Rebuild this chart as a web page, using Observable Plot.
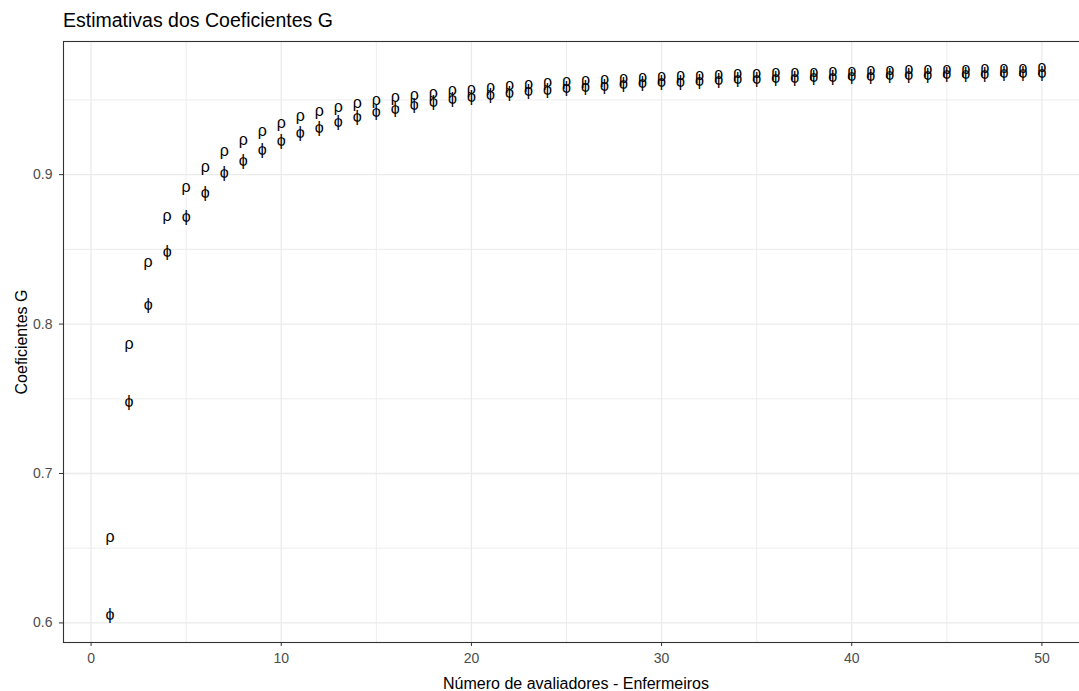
<!DOCTYPE html>
<html><head><meta charset="utf-8">
<script src="https://cdn.jsdelivr.net/npm/d3@7"></script>
<script src="https://cdn.jsdelivr.net/npm/@observablehq/plot@0.6"></script>
<style>
html,body{margin:0;padding:0;background:#fff;}
#wrap{position:relative;width:1079px;height:691px;overflow:hidden;background:#fff;font-family:"Liberation Sans",Arial,sans-serif;}
#title{position:absolute;left:63px;top:9px;font-size:19.5px;line-height:22px;color:#000;white-space:nowrap;}
#chart{position:absolute;left:0;top:32px;width:1100px;}
#chart svg{max-width:none !important;}
</style></head><body>
<div id="wrap"><div id="title">Estimativas dos Coeficientes G</div><div id="chart"></div></div>
<script>
const avaliadores = [1,2,3,4,5,6,7,8,9,10,11,12,13,14,15,16,17,18,19,20,21,22,23,24,25,26,27,28,29,30,31,32,33,34,35,36,37,38,39,40,41,42,43,44,45,46,47,48,49,50];
const coefRho = [0.6574,0.7870,0.8414,0.8725,0.8917,0.9053,0.9156,0.9233,0.9293,0.9349,0.9390,0.9425,0.9455,0.9480,0.9500,0.9518,0.9534,0.9550,0.9564,0.9577,0.9589,0.9600,0.9610,0.9619,0.9628,0.9636,0.9643,0.9650,0.9656,0.9661,0.9666,0.9670,0.9674,0.9678,0.9682,0.9685,0.9688,0.9691,0.9694,0.9697,0.9700,0.9702,0.9705,0.9707,0.9709,0.9711,0.9713,0.9715,0.9717,0.9719];
const coefPhi = [0.6051,0.7482,0.8130,0.8480,0.8717,0.8880,0.9009,0.9090,0.9166,0.9225,0.9278,0.9315,0.9352,0.9388,0.9418,0.9443,0.9466,0.9486,0.9504,0.9520,0.9534,0.9547,0.9559,0.9570,0.9580,0.9589,0.9597,0.9605,0.9612,0.9618,0.9624,0.9629,0.9634,0.9638,0.9642,0.9646,0.9650,0.9653,0.9656,0.9659,0.9662,0.9665,0.9667,0.9670,0.9672,0.9674,0.9676,0.9678,0.9680,0.9682];
const simboloRho = "ρ";
const simboloPhi = "ϕ";
const xTicks = [0,10,20,30,40,50];
const xMinor = [5,15,25,35,45];
const yTicks = [0.6,0.7,0.8,0.9];
const yMinor = [0.65,0.75,0.85,0.95];
const tituloX = "Número de avaliadores - Enfermeiros";
const tituloY = "Coeficientes G";

const dados = avaliadores.flatMap((n, i) => [
  {n, v: coefRho[i], s: simboloRho},
  {n, v: coefPhi[i], s: simboloPhi}
]);

const chart = Plot.plot({
  width: 1100,
  height: 659,
  marginTop: 9,
  marginBottom: 49,
  marginLeft: 63,
  marginRight: 12,
  x: {domain: [-1.45, 52.45]},
  y: {domain: [0.5869, 0.9891]},
  style: {fontFamily: "'Liberation Sans', Arial, sans-serif", fontSize: "14px", background: "white", overflow: "visible", maxWidth: "none"},
  marks: [
    Plot.gridX(xMinor, {stroke: "#EBEBEB", strokeOpacity: 1, strokeWidth: 0.9}),
    Plot.gridY(yMinor, {stroke: "#EBEBEB", strokeOpacity: 1, strokeWidth: 0.9}),
    Plot.gridX(xTicks, {stroke: "#EBEBEB", strokeOpacity: 1, strokeWidth: 1.3}),
    Plot.gridY(yTicks, {stroke: "#EBEBEB", strokeOpacity: 1, strokeWidth: 1.3}),
    Plot.text(dados, {x: "n", y: "v", text: "s", fontSize: 16, fill: "#000"}),
    Plot.frame({stroke: "#333333", strokeWidth: 1.1}),
    Plot.axisX(xTicks, {tickSize: 4, tickPadding: 7, stroke: "#333333", fill: "#4D4D4D", fontSize: 14,
      label: tituloX, labelAnchor: "center", labelOffset: 46, labelArrow: "none"}),
    Plot.axisY(yTicks, {tickSize: 4, tickPadding: 7, stroke: "#333333", fill: "#4D4D4D", fontSize: 14,
      tickFormat: d => d.toFixed(1),
      label: tituloY, labelAnchor: "center", labelOffset: 48, labelArrow: "none"})
  ]
});
chart.querySelectorAll('g[aria-label$="axis label"]').forEach(g => {
  g.setAttribute("fill", "#000");
  g.setAttribute("font-size", "16");
  g.querySelectorAll("text").forEach(t => t.setAttribute("font-size", "16"));
});
document.getElementById("chart").appendChild(chart);
</script>
</body></html>
